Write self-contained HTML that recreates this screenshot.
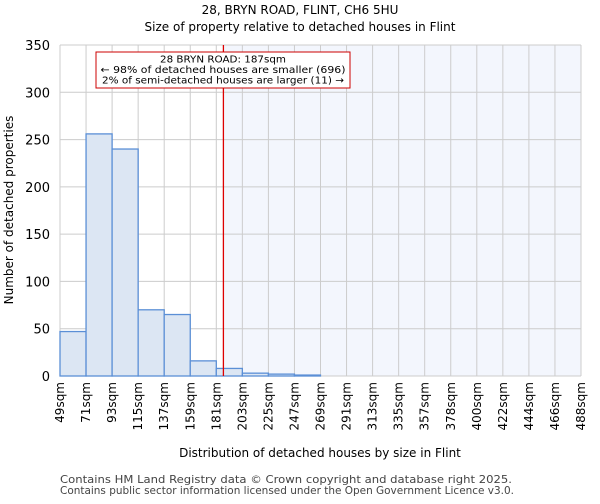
<!DOCTYPE html>
<html><head><meta charset="utf-8"><style>
body{margin:0;background:#fff;font-family:"DejaVu Sans","Liberation Sans",sans-serif;}
</style></head><body>
<svg width="600" height="500" xmlns="http://www.w3.org/2000/svg" font-family="DejaVu Sans, Liberation Sans, sans-serif">
<text x="300" y="14" text-anchor="middle" font-size="12">28, BRYN ROAD, FLINT, CH6 5HU</text>
<text x="300" y="31" text-anchor="middle" font-size="12">Size of property relative to detached houses in Flint</text>
<g id="plot"></g>
<text x="320" y="457" text-anchor="middle" font-size="12">Distribution of detached houses by size in Flint</text>
<text transform="translate(13,210) rotate(-90)" text-anchor="middle" font-size="12">Number of detached properties</text>
<text x="60" y="483" font-size="11" fill="#444" textLength="452" lengthAdjust="spacingAndGlyphs">Contains HM Land Registry data © Crown copyright and database right 2025.</text>
<text x="60" y="494" font-size="11" fill="#444" textLength="454" lengthAdjust="spacingAndGlyphs">Contains public sector information licensed under the Open Government Licence v3.0.</text>
</svg>
<script>
const binLabels=["49sqm","71sqm","93sqm","115sqm","137sqm","159sqm","181sqm","203sqm","225sqm","247sqm","269sqm","291sqm","313sqm","335sqm","357sqm","378sqm","400sqm","422sqm","444sqm","466sqm","488sqm"];
const binStarts=[49,71,93,115,137,159,181,203,225,247,269,291,313,335,357,378,400,422,444,466,488];
const counts=[47,256,240,70,65,16,8,3,2,1,0,0,0,0,0,0,0,0,0,0];
const yTicks=[0,50,100,150,200,250,300,350];
const subjectSize=187;
const NS="http://www.w3.org/2000/svg";
const X0=60,X1=581,Y0=376,Y1=45,YMAX=350;
const nb=counts.length,bw=(X1-X0)/nb;
const xi=i=>X0+i*bw;
const y=v=>Y0-(v/YMAX)*(Y0-Y1);
function xv(v){let i=0;while(i<nb-1&&v>=binStarts[i+1])i++;return xi(i)+(v-binStarts[i])/(binStarts[i+1]-binStarts[i])*bw;}
const g=document.getElementById('plot');
function mk(t,a){const e=document.createElementNS(NS,t);for(const k in a)e.setAttribute(k,a[k]);g.appendChild(e);return e;}
const sx=xv(subjectSize);
let e=mk('rect',{x:sx,y:Y1,width:X1-sx,height:Y0-Y1,fill:'#f3f6fd'});


for(let i=0;i<=nb;i++){e=mk('line',{x1:xi(i),x2:xi(i),y1:Y1,y2:Y0,stroke:'#ccc','stroke-width':1});

}
yTicks.forEach(t=>{e=mk('line',{x1:X0,x2:X1,y1:y(t),y2:y(t),stroke:'#ccc','stroke-width':1});


e=mk('text',{x:X0-10,y:y(t)+5,'text-anchor':'end','font-size':13});e.textContent=t;

});
counts.forEach((c,i)=>{if(c<=0)return;e=mk('rect',{x:xi(i),y:y(c),width:bw,height:Y0-y(c),fill:'#dce6f3',stroke:'#5b8fd6','stroke-width':1.3});

});
binLabels.forEach((l,i)=>{const px=xi(i);e=mk('text',{x:px+4,y:382,'text-anchor':'end','font-size':12,transform:`rotate(-90 ${px+4} 382)`});e.textContent=l;

});
e=mk('line',{x1:sx,x2:sx,y1:Y1,y2:Y0,stroke:'#dd0000','stroke-width':1.3});


e=mk('rect',{x:96,y:52,width:254,height:36,fill:'#fff',stroke:'#cc0000','stroke-width':1});


const annLines=["28 BRYN ROAD: 187sqm","← 98% of detached houses are smaller (696)","2% of semi-detached houses are larger (11) →"];
const annW=[126,245,242];
annLines.forEach((s,k)=>{e=mk('text',{x:223,y:62.5+k*10.5,'text-anchor':'middle','font-size':10,textLength:annW[k],lengthAdjust:'spacingAndGlyphs'});e.textContent=s;

});
</script>
</body></html>
